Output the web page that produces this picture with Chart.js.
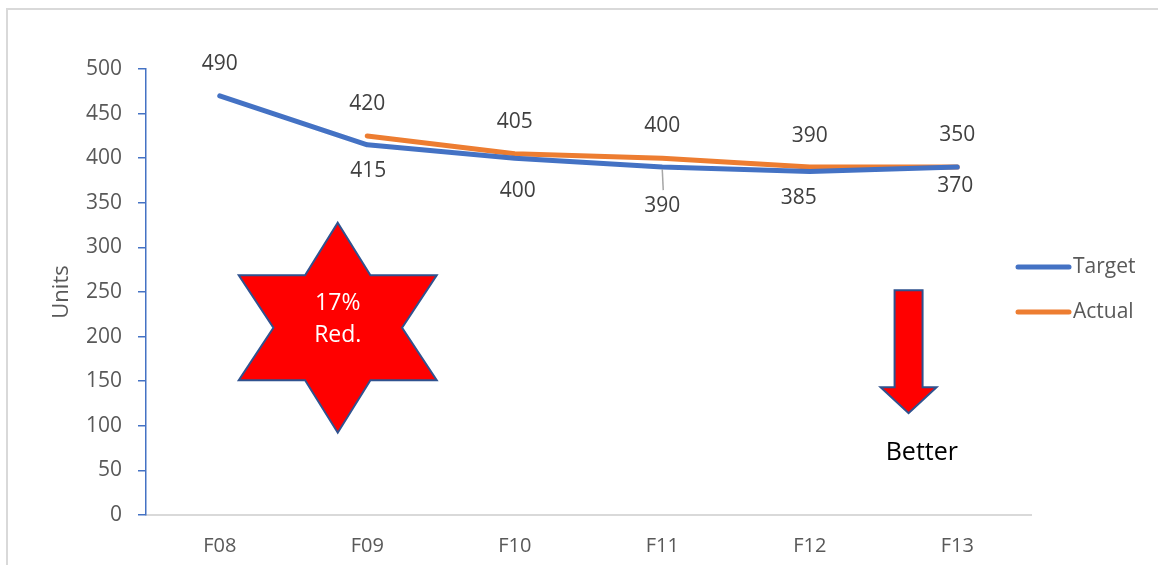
<!DOCTYPE html>
<html>
<head>
<meta charset="utf-8">
<title>Target vs Actual</title>
<script src="https://cdn.jsdelivr.net/npm/chart.js@4"></script>
<style>
  html, body { margin: 0; padding: 0; background: #ffffff; }
  #wrap { width: 1158px; height: 565px; position: relative; }
</style>
</head>
<body>
<div id="wrap"><canvas id="chart" width="1158" height="565"></canvas></div>
<script>
// Chart data
const categories = ['F08', 'F09', 'F10', 'F11', 'F12', 'F13'];
const targetValues = [470, 415, 400, 390, 385, 390];
const actualValues = [null, 425, 405, 400, 390, 390];
// data label texts as shown on the chart
const targetLabels = ['490', '415', '400', '390', '385', '370'];
const actualLabels = [null, '420', '405', '400', '390', '350'];
const yTicks = [0, 50, 100, 150, 200, 250, 300, 350, 400, 450, 500];

// label placement (pixel offsets from the point)
const targetLabelDx = [0, 1, 3, 0, -11, -2];
const targetLabelDy = [-32, 26, 33, 39, 26, 19];
const targetLeader = [false, false, false, true, false, false];
const actualLabelDy = [0, -32, -32, -32, -31, -32];

const BLUE = '#4472C4';
const ORANGE = '#ED7D31';
const FONT = "'Open Sans', 'Liberation Sans', sans-serif";

// Draws frame, data labels, legend, star and arrow
const decorPlugin = {
  id: 'decor',
  afterDraw(chart) {
    const ctx = chart.ctx;
    const x = chart.scales.x;
    const y = chart.scales.y;

    // outer frame (top and left edge)
    ctx.save();
    ctx.strokeStyle = '#D9D9D9';
    ctx.lineWidth = 2;
    ctx.beginPath();
    ctx.moveTo(7, chart.height);
    ctx.lineTo(7, 9);
    ctx.lineTo(chart.width, 9);
    ctx.stroke();
    ctx.restore();

    // data labels
    ctx.save();
    ctx.font = '21px ' + FONT;
    ctx.fillStyle = '#404040';
    ctx.textAlign = 'center';
    ctx.textBaseline = 'middle';
    targetValues.forEach(function(v, i) {
      if (v === null) return;
      const px = x.getPixelForValue(i);
      const py = y.getPixelForValue(v);
      if (targetLeader[i]) {
        ctx.strokeStyle = '#A6A6A6';
        ctx.lineWidth = 1.5;
        ctx.beginPath();
        ctx.moveTo(px, py + 2);
        ctx.lineTo(px + 1, py + targetLabelDy[i] - 16);
        ctx.stroke();
      }
      ctx.fillText(targetLabels[i], px + targetLabelDx[i], py + targetLabelDy[i]);
    });
    actualValues.forEach(function(v, i) {
      if (v === null) return;
      const px = x.getPixelForValue(i);
      const py = y.getPixelForValue(v);
      ctx.fillText(actualLabels[i], px, py + actualLabelDy[i]);
    });
    ctx.restore();

    // legend
    ctx.save();
    const legendItems = [
      { text: 'Target', color: BLUE, y: 267 },
      { text: 'Actual', color: ORANGE, y: 312 }
    ];
    ctx.font = '21px ' + FONT;
    ctx.fillStyle = '#595959';
    ctx.textBaseline = 'middle';
    ctx.lineCap = 'round';
    ctx.lineWidth = 5;
    legendItems.forEach(function(item) {
      ctx.strokeStyle = item.color;
      ctx.beginPath();
      ctx.moveTo(1018, item.y);
      ctx.lineTo(1069, item.y);
      ctx.stroke();
      ctx.fillText(item.text, 1073, item.y);
    });
    ctx.restore();

    // six-pointed star
    const sx = x.getPixelForValue(0.8);
    const sy = y.getPixelForValue(210);
    const rx = 99, ry = 105;
    const pts = [
      [0, -1], [0.33, -0.5], [1, -0.5], [0.65, 0], [1, 0.5], [0.33, 0.5],
      [0, 1], [-0.33, 0.5], [-1, 0.5], [-0.65, 0], [-1, -0.5], [-0.33, -0.5]
    ];
    ctx.save();
    ctx.beginPath();
    pts.forEach(function(p, i) {
      const px = sx + p[0] * rx;
      const py = sy + p[1] * ry;
      if (i === 0) ctx.moveTo(px, py); else ctx.lineTo(px, py);
    });
    ctx.closePath();
    ctx.fillStyle = '#FF0000';
    ctx.fill();
    ctx.strokeStyle = '#2F528F';
    ctx.lineWidth = 2;
    ctx.lineJoin = 'miter';
    ctx.stroke();
    ctx.fillStyle = '#ffffff';
    ctx.font = '23px ' + FONT;
    ctx.textAlign = 'center';
    ctx.textBaseline = 'middle';
    ctx.fillText('17%', sx, sy - 24);
    ctx.fillText('Red.', sx, sy + 8);
    ctx.restore();

    // down arrow with "Better"
    const ax = x.getPixelForValue(4.67);
    const ay = y.getPixelForValue(252);
    ctx.save();
    ctx.beginPath();
    ctx.moveTo(ax - 14, ay);
    ctx.lineTo(ax + 14, ay);
    ctx.lineTo(ax + 14, ay + 97);
    ctx.lineTo(ax + 28, ay + 97);
    ctx.lineTo(ax, ay + 123);
    ctx.lineTo(ax - 28, ay + 97);
    ctx.lineTo(ax - 14, ay + 97);
    ctx.closePath();
    ctx.fillStyle = '#FF0000';
    ctx.fill();
    ctx.strokeStyle = '#2F528F';
    ctx.lineWidth = 2;
    ctx.stroke();
    ctx.fillStyle = '#000000';
    ctx.font = '25px ' + FONT;
    ctx.textAlign = 'center';
    ctx.textBaseline = 'middle';
    ctx.fillText('Better', x.getPixelForValue(4.76), y.getPixelForValue(70));
    ctx.restore();
  }
};

new Chart(document.getElementById('chart'), {
  type: 'line',
  data: {
    labels: categories,
    datasets: [
      {
        label: 'Target',
        data: targetValues,
        borderColor: BLUE,
        backgroundColor: BLUE,
        borderWidth: 5,
        borderCapStyle: 'round',
        borderJoinStyle: 'round',
        pointRadius: 0,
        tension: 0
      },
      {
        label: 'Actual',
        data: actualValues,
        borderColor: ORANGE,
        backgroundColor: ORANGE,
        borderWidth: 5,
        borderCapStyle: 'round',
        borderJoinStyle: 'round',
        pointRadius: 0,
        tension: 0
      }
    ]
  },
  options: {
    responsive: false,
    animation: false,
    layout: { padding: { left: 0, top: 69, right: 127, bottom: 0 } },
    plugins: {
      legend: { display: false },
      tooltip: { enabled: false }
    },
    scales: {
      x: {
        offset: true,
        grid: { display: false, drawTicks: true, tickLength: 8 },
        border: { color: '#D9D9D9', width: 2 },
        ticks: { color: '#595959', font: { family: FONT, size: 20 }, padding: 11, maxRotation: 0 },
        afterFit: function(scale) { scale.height = 50; }
      },
      y: {
        min: 0,
        max: 500,
        afterBuildTicks: function(scale) {
          scale.ticks = yTicks.map(function(v) { return { value: v }; });
        },
        grid: { display: true, drawOnChartArea: false, drawTicks: true, tickLength: 8, color: BLUE, lineWidth: 1.5 },
        border: { color: BLUE, width: 1.5 },
        ticks: { color: '#595959', font: { family: FONT, size: 21 }, padding: 16 },
        title: {
          display: true,
          text: 'Units',
          color: '#595959',
          font: { family: FONT, size: 22 },
          padding: { top: 49, bottom: 0 }
        },
        afterFit: function(scale) { scale.width = 146; }
      }
    }
  },
  plugins: [decorPlugin]
});
</script>
</body>
</html>
